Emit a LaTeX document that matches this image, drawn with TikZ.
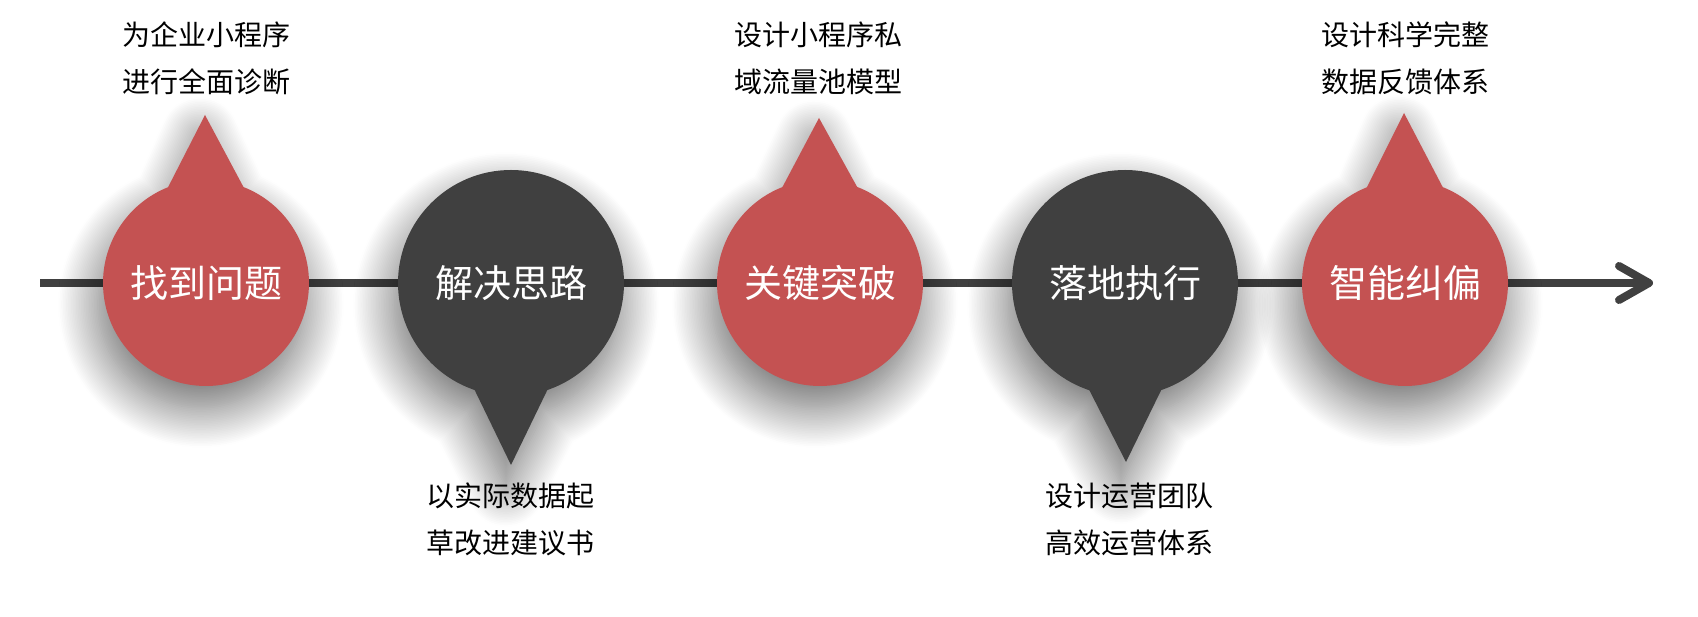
\documentclass[tikz,border=0pt]{standalone}
\usepackage{fontspec}
\newfontfamily\cjk{Noto Sans CJK SC}
\usetikzlibrary{arrows.meta, calc, shadows.blur, backgrounds}
\definecolor{pinred}{HTML}{C45252}
\definecolor{pindark}{HTML}{404040}

\begin{document}
\begin{tikzpicture}[
    x=1pt, y=1pt,
    redpin/.style={circle, fill=pinred, minimum size=206pt, inner sep=0pt, text=white, font=\cjk\fontsize{38}{40}\selectfont},
    darkpin/.style={circle, fill=pindark, minimum size=226pt, inner sep=0pt, text=white, font=\cjk\fontsize{38}{40}\selectfont},
    note/.style={align=center, inner sep=0pt, font=\cjk\fontsize{28}{47}\selectfont},
    timeline/.style={line width=8pt, draw=pindark, -{Straight Barb[length=30pt, width=34pt, round]}},
    pinshadow/.style={blur shadow={shadow xshift=-5pt, shadow yshift=-22pt, shadow blur radius=40pt, shadow blur steps=25, shadow opacity=58}}
]
    \useasboundingbox (0,-334) rectangle (1698,283);

    % Milestones
    \node[redpin] (p1) at (206,0) {找到问题};
    \node[darkpin] (p2) at (511,0) {解决思路};
    \node[redpin] (p3) at (820,0) {关键突破};
    \node[darkpin] (p4) at (1125,0) {落地执行};
    \node[redpin] (p5) at (1405,0) {智能纠偏};

    % Spike tips
    \coordinate (t1) at (205,168);
    \coordinate (t2) at (511,-182);
    \coordinate (t3) at (819,165);
    \coordinate (t4) at (1126,-179);
    \coordinate (t5) at (1404,170);

    % Spikes
    \fill[pinred] ($(p1)+(46,80)$) -- (t1) -- ($(p1)+(-46,80)$) -- cycle;
    \fill[pindark] ($(p2)+(-47,-85)$) -- (t2) -- ($(p2)+(47,-85)$) -- cycle;
    \fill[pinred] ($(p3)+(46,80)$) -- (t3) -- ($(p3)+(-46,80)$) -- cycle;
    \fill[pindark] ($(p4)+(-47,-85)$) -- (t4) -- ($(p4)+(47,-85)$) -- cycle;
    \fill[pinred] ($(p5)+(46,80)$) -- (t5) -- ($(p5)+(-46,80)$) -- cycle;

    % Notes
    \node[note] (n1) at (206,225) {为企业小程序\\进行全面诊断};
    \node[note] (n2) at (510,-236) {以实际数据起\\草改进建议书};
    \node[note] (n3) at (818,225) {设计小程序私\\域流量池模型};
    \node[note] (n4) at (1129,-236) {设计运营团队\\高效运营体系};
    \node[note] (n5) at (1405,225) {设计科学完整\\数据反馈体系};

    % Timeline and shadows
    \coordinate (start) at (40,0);
    \coordinate (finish) at (1653,0);
    \begin{scope}[on background layer]
        \draw[timeline] (start) -- (finish);
        \path[pinshadow] (t1) -- (p1.108) arc[start angle=108, end angle=432, radius=103pt] -- cycle;
        \path[pinshadow] (t2) -- (p2.-70) arc[start angle=-70, end angle=250, radius=113pt] -- cycle;
        \path[pinshadow] (t3) -- (p3.108) arc[start angle=108, end angle=432, radius=103pt] -- cycle;
        \path[pinshadow] (t4) -- (p4.-70) arc[start angle=-70, end angle=250, radius=113pt] -- cycle;
        \path[pinshadow] (t5) -- (p5.108) arc[start angle=108, end angle=432, radius=103pt] -- cycle;
    \end{scope}
\end{tikzpicture}
\end{document}
